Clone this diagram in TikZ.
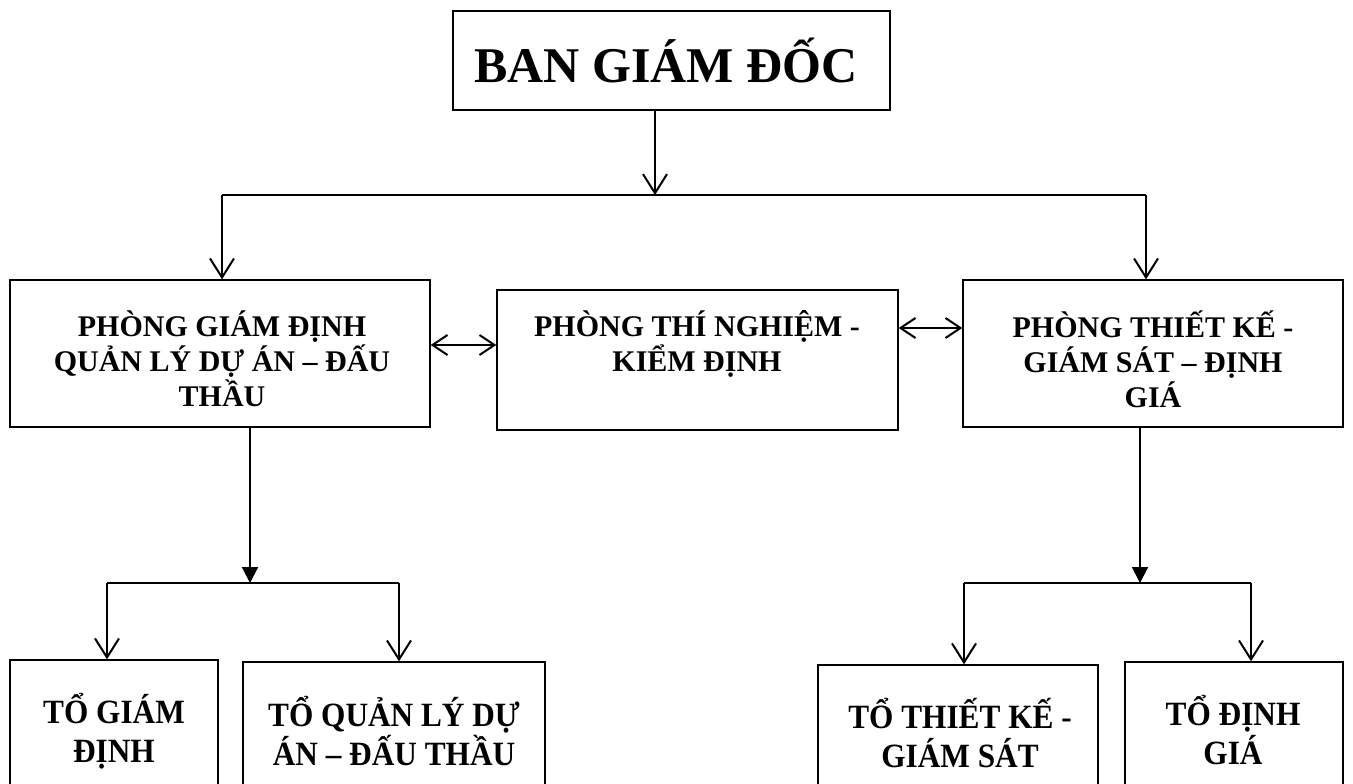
\documentclass[tikz,border=0pt]{standalone}
\usepackage{fontspec}
\setmainfont{Liberation Serif}
\newfontfamily\bottomfont[FakeStretch=0.92]{Liberation Serif}
\usetikzlibrary{arrows.meta}
\tikzset{
  box/.style={draw=black, line width=0.7pt, rectangle, inner sep=0pt},
  txt/.style={align=center, font=\bfseries\fontsize{15}{17.5}\selectfont, inner sep=0pt},
  txtb/.style={align=center, font=\bottomfont\bfseries\fontsize{17}{19.5}\selectfont, inner sep=0pt},
  conn/.style={line width=1pt},
  arr/.style={conn, -{Straight Barb[length=9.5pt,width=12pt,line width=1pt]}},
  tri/.style={conn, -{Triangle[length=8pt,width=8pt]}},
  dbl/.style={conn, {Straight Barb[length=7.5pt,width=10pt,line width=1pt]}-{Straight Barb[length=7.5pt,width=10pt,line width=1pt]}}
}
\begin{document}
\begin{tikzpicture}[x=0.5pt,y=-0.5pt]
\useasboundingbox (0,0) rectangle (1353,783);
% boxes
\node[box, minimum width=218.5pt, minimum height=49.5pt] (top) at (671.5,60.5) {};
\node[box, minimum width=210pt, minimum height=73.5pt] (pgd) at (220,353.5) {};
\node[box, minimum width=200.5pt, minimum height=70pt] (ptn) at (697.5,360) {};
\node[box, minimum width=190pt, minimum height=73.5pt] (ptk) at (1153,353.5) {};
\node[box, minimum width=104pt, minimum height=70pt] (tgd) at (114,730) {};
\node[box, minimum width=151pt, minimum height=69pt] (tql) at (394,731) {};
\node[box, minimum width=140pt, minimum height=67.5pt] (ttk) at (958,732.5) {};
\node[box, minimum width=109pt, minimum height=69pt] (tdg) at (1234,731) {};
% texts
\node[inner sep=0pt, font=\bfseries\fontsize{25}{30}\selectfont] (ttop) at (666,60) {BAN GIÁM ĐỐC};
\node[txt] (tpgd) at (222,359) {PHÒNG GIÁM ĐỊNH\\QUẢN LÝ DỰ ÁN – ĐẤU\\THẦU};
\node[txt] (tptn) at (697,344) {PHÒNG THÍ NGHIỆM -\\KIỂM ĐỊNH};
\node[txt] (tptk) at (1153,359) {PHÒNG THIẾT KẾ -\\GIÁM SÁT – ĐỊNH\\GIÁ};
\node[txtb] (ttgd) at (114,731) {TỔ GIÁM\\ĐỊNH};
\node[txtb] (ttql) at (394,731) {TỔ QUẢN LÝ DỰ\\ÁN – ĐẤU THẦU};
\node[txtb] (tttk) at (960,733) {TỔ THIẾT KẾ -\\GIÁM SÁT};
\node[txtb] (ttdg) at (1233,730) {TỔ ĐỊNH\\GIÁ};
% level 1 connectors
\coordinate (j1) at (655,195);
\coordinate (j1L) at (222,195);
\coordinate (j1R) at (1146,195);
\draw[arr] (top.south -| j1) -- (j1);
\draw[conn] (j1L) -- (j1R);
\draw[arr] (j1L) -- (j1L |- pgd.north);
\draw[arr] (j1R) -- (j1R |- ptk.north);
% double arrows
\coordinate (d1) at (0,345);
\coordinate (d2) at (0,328);
\draw[dbl] (pgd.east |- d1) -- (ptn.west |- d1);
\draw[dbl] (ptn.east |- d2) -- (ptk.west |- d2);
% level 2 left
\coordinate (j2) at (250,583);
\coordinate (j2L) at (107,583);
\coordinate (j2R) at (399,583);
\draw[tri] (pgd.south -| j2) -- (j2);
\draw[conn] (j2L) -- (j2R);
\draw[arr] (j2L) -- (j2L |- tgd.north);
\draw[arr] (j2R) -- (j2R |- tql.north);
% level 2 right
\coordinate (j3) at (1140,583);
\coordinate (j3L) at (964,583);
\coordinate (j3R) at (1251,583);
\draw[tri] (ptk.south -| j3) -- (j3);
\draw[conn] (j3L) -- (j3R);
\draw[arr] (j3L) -- (j3L |- ttk.north);
\draw[arr] (j3R) -- (j3R |- tdg.north);
\end{tikzpicture}
\end{document}
